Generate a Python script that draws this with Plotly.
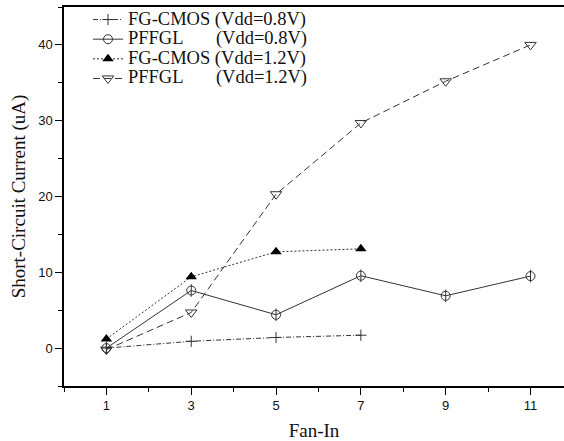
import plotly.graph_objects as go

fan_in_short = [1, 3, 5, 7]
fan_in_long = [1, 3, 5, 7, 9, 11]
fgcmos_08 = [0.0, 0.9, 1.4, 1.7]
pffgl_08 = [0.0, 7.6, 4.4, 9.55, 6.9, 9.5]
fgcmos_12 = [1.2, 9.4, 12.7, 13.1]
pffgl_12 = [-0.2, 4.7, 20.3, 29.7, 35.2, 40.0]

nb = "\u00a0"
labels = [
    "FG-CMOS (Vdd=0.8V)",
    "PFFGL" + nb * 7 + "(Vdd=0.8V)",
    "FG-CMOS (Vdd=1.2V)",
    "PFFGL" + nb * 7 + "(Vdd=1.2V)",
]
names = ["<span style='font-size:18.5px'>" + t + "</span>" for t in labels]

lc = "#333333"
fig = go.Figure()
fig.add_trace(go.Scatter(x=fan_in_short, y=fgcmos_08, name=names[0], mode="lines+markers",
                         line=dict(color=lc, width=1, dash="5px,2px,1px,2px"),
                         marker=dict(symbol="cross-thin-open", size=8, color=lc, line=dict(width=1, color=lc))))
fig.add_trace(go.Scatter(x=fan_in_long, y=pffgl_08, name=names[1], mode="lines+markers",
                         legendgroup="p08",
                         line=dict(color=lc, width=1, dash="solid"),
                         marker=dict(symbol="circle-open", size=9, color=lc, line=dict(width=1, color=lc))))
fig.add_trace(go.Scatter(x=fan_in_long, y=pffgl_08, mode="markers", showlegend=False,
                         legendgroup="p08", hoverinfo="skip",
                         marker=dict(symbol="line-ns-open", size=9, color=lc, line=dict(width=1, color=lc))))
fig.add_trace(go.Scatter(x=fan_in_short, y=fgcmos_12, name=names[2], mode="lines+markers",
                         line=dict(color=lc, width=1, dash="2px,2px"),
                         marker=dict(symbol="triangle-up", size=10, color="black")))
fig.add_trace(go.Scatter(x=fan_in_long, y=pffgl_12, name=names[3], mode="lines+markers",
                         line=dict(color=lc, width=1, dash="7px,4px"),
                         marker=dict(symbol="triangle-down-open", size=10, color=lc, line=dict(width=1, color=lc))))

tickfont = dict(family="Liberation Sans, Arial, sans-serif", size=13, color="#111111")
titlefont = dict(family="Liberation Serif, Times New Roman, serif", size=19, color="#111111")

fig.update_layout(
    width=564, height=441,
    margin=dict(l=64, r=0, t=7, b=55),
    paper_bgcolor="white", plot_bgcolor="white",
    showlegend=True,
    legend=dict(x=0.048, y=1.006, xanchor="left", yanchor="top",
                font=dict(family="Liberation Serif, Times New Roman, serif", size=12.8, color="#111111"),
                bgcolor="rgba(0,0,0,0)", tracegroupgap=0, itemwidth=30),
    xaxis=dict(range=[0, 11.79], tickvals=[1, 3, 5, 7, 9, 11], ticks="outside", ticklen=7,
               tickwidth=1, tickcolor="black", automargin=False,
               minor=dict(tickvals=[0, 2, 4, 6, 8, 10], ticks="outside", ticklen=4, tickcolor="black"),
               showline=True, linecolor="black", linewidth=1.5, mirror=True,
               showgrid=False, zeroline=False, tickfont=tickfont,
               title=dict(text="Fan-In", font=titlefont, standoff=13)),
    yaxis=dict(range=[-5, 45], tickvals=[0, 10, 20, 30, 40], ticks="outside", ticklen=7,
               tickwidth=1, tickcolor="black", automargin=False,
               minor=dict(tickvals=[-5, 5, 15, 25, 35, 45], ticks="outside", ticklen=4, tickcolor="black"),
               showline=True, linecolor="black", linewidth=1.5,
               showgrid=False, zeroline=False, tickfont=tickfont,
               title=dict(text="Short-Circuit Current (uA)", font=titlefont, standoff=8)),
)

fig.write_html("out.html", config={"displayModeBar": False},
               post_script="document.body.style.margin='0';")
